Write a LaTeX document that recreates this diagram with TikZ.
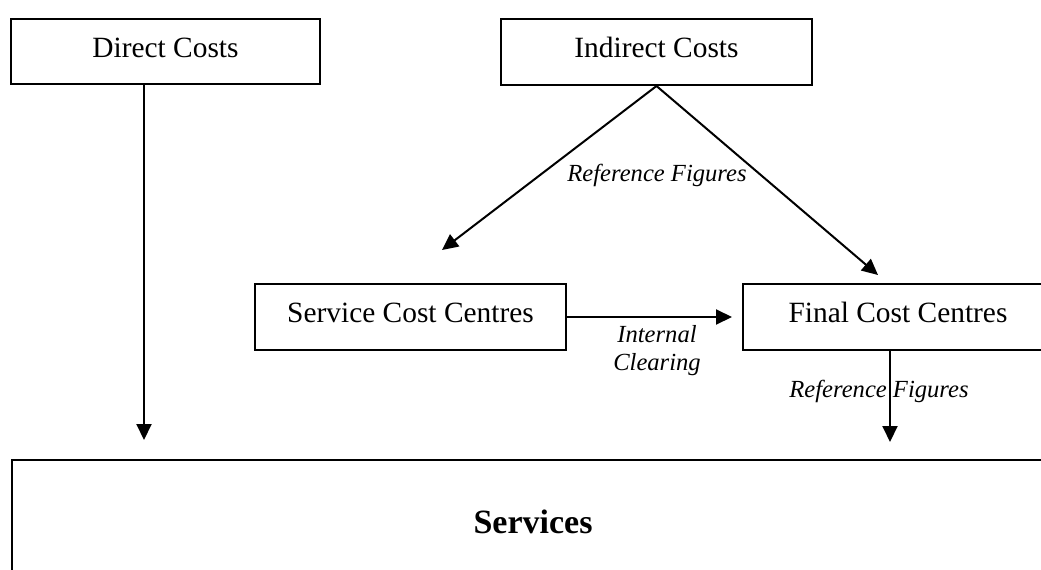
\documentclass[tikz,border=0pt]{standalone}
\usepackage{fontspec}
\setmainfont{Liberation Serif}
\usetikzlibrary{arrows.meta}
\tikzset{
  costbox/.style={draw, line width=2pt, minimum height=66pt, inner sep=0pt,
    font=\fontsize{29.4}{35}\selectfont, text height=20pt, text depth=9pt},
  bigbox/.style={draw, line width=2pt, inner sep=0pt,
    font=\fontsize{34}{40}\selectfont\bfseries, text height=23pt, text depth=9pt},
  lbl/.style={inner sep=0pt, anchor=base, font=\fontsize{24.6}{28}\selectfont\itshape},
  arr/.style={line width=2pt, -{Triangle[width=15pt,length=16pt]}}
}
\begin{document}
\begin{tikzpicture}[x=1pt,y=-1pt]
\useasboundingbox (0,0) rectangle (1041,570);
\clip (0,0) rectangle (1041,570);
\node[costbox, minimum width=309pt, minimum height=65pt] (dir) at (165.5,51.5) {Direct Costs};
\node[costbox, minimum width=311pt] (ind) at (656.5,52) {Indirect Costs};
\node[costbox, minimum width=311pt] (svc) at (410.5,317) {Service Cost Centres};
\node[costbox, minimum width=310pt] (fin) at (898,317) {Final Cost Centres};
\node[bigbox, minimum width=1042pt, minimum height=132pt] (srv) at (533,526) {Services};
\coordinate (d1) at (144,440);
\coordinate (f1) at (890,442);
\coordinate (s1) at (442,250);
\coordinate (s2) at (878,275);
\node[lbl] (rf1) at (657,181) {Reference Figures};
\node[lbl] (ic1) at (657,342) {Internal};
\node[lbl] (ic2) at (657,370) {Clearing};
\node[lbl] (rf2) at (879,397) {Reference Figures};
\draw[arr] (d1 |- dir.south) -- (d1);
\draw[arr] (ind.south) -- (s1);
\draw[arr] (ind.south) -- (s2);
\draw[arr] (svc.east) -- ([xshift=-10pt]fin.west);
\draw[arr] (f1 |- fin.south) -- (f1);
\end{tikzpicture}
\end{document}
